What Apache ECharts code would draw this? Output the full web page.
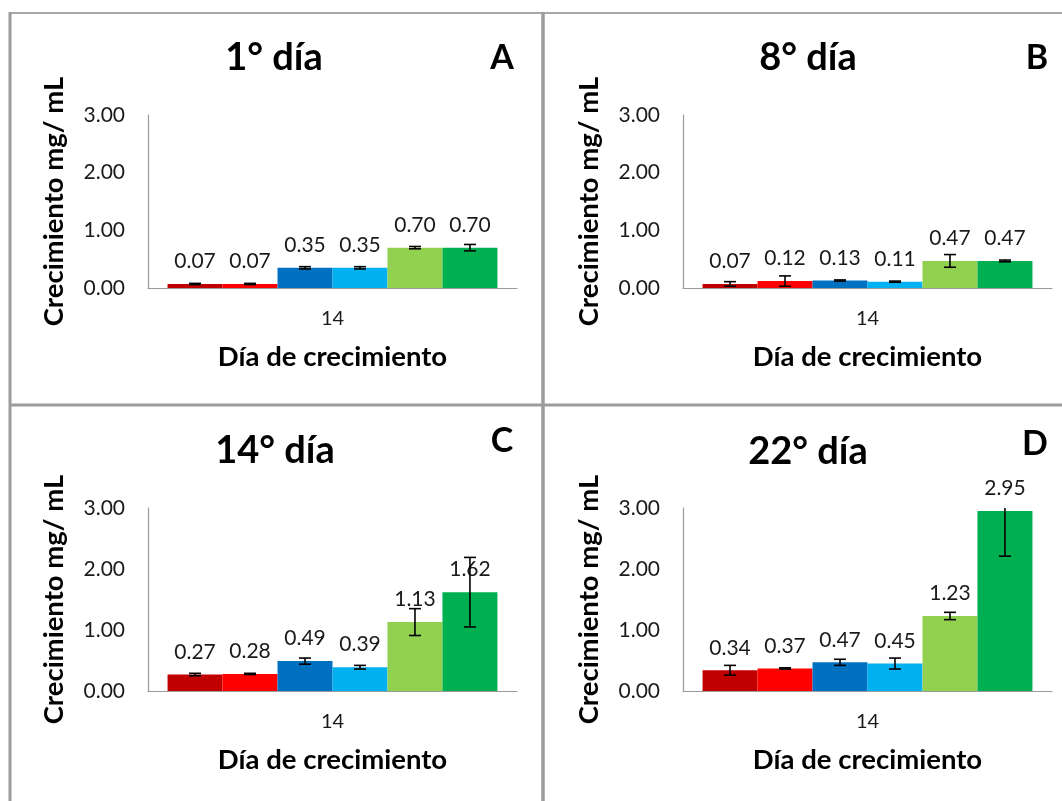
<!DOCTYPE html>
<html>
<head>
<meta charset="utf-8">
<script src="https://cdn.jsdelivr.net/npm/echarts@6/dist/echarts.min.js"></script>
<style>
html,body{margin:0;padding:0;background:#fff;}
#chart{width:1062px;height:801px;}
</style>
</head>
<body>
<div id="chart"></div>
<script>
// ---------- data ----------
const categories = ['14'];
const panelTitles = ['1° día', '8° día', '14° día', '22° día'];
const panelLetters = ['A', 'B', 'C', 'D'];
const seriesNames = ['Serie 1', 'Serie 2', 'Serie 3', 'Serie 4', 'Serie 5', 'Serie 6'];
const seriesColors = ['#C00000', '#FF0000', '#0070C0', '#00B0F0', '#92D050', '#00B050'];
const yTickLabels = ['0.00', '1.00', '2.00', '3.00'];
const yAxisTitle = 'Crecimiento mg/ mL';
const xAxisTitle = 'Día de crecimiento';

const valuesA = [0.07, 0.07, 0.35, 0.35, 0.70, 0.70];
const errorsA = [0.01, 0.01, 0.02, 0.02, 0.02, 0.055];
const valuesB = [0.07, 0.12, 0.13, 0.11, 0.47, 0.47];
const errorsB = [0.04, 0.09, 0.01, 0.01, 0.11, 0.015];
const valuesC = [0.27, 0.28, 0.49, 0.39, 1.13, 1.62];
const errorsC = [0.02, 0.01, 0.05, 0.03, 0.22, 0.57];
const valuesD = [0.34, 0.37, 0.47, 0.45, 1.23, 2.95];
const errorsD = [0.08, 0.01, 0.05, 0.09, 0.06, 0.74];

const panelValues = [valuesA, valuesB, valuesC, valuesD];
const panelErrors = [errorsA, errorsB, errorsC, errorsD];

// ---------- layout / style ----------
const grids = [
  {left: 148, top: 115, width: 369, height: 173},
  {left: 683, top: 115, width: 369, height: 173},
  {left: 148, top: 508, width: 369, height: 183},
  {left: 683, top: 508, width: 369, height: 183}
];
const titlePos = [[274, 58], [808, 58], [275, 451], [808, 452]];
const letterPos = [[502, 58], [1037, 58], [502, 441], [1035, 444]];
const GAP = 0.106;
const YMAX = 3;
const FONT = 'Lato, "Open Sans", sans-serif';
const AXIS_COLOR = '#9a9a9a';
const TEXT_COLOR = '#1a1a1a';

const chart = echarts.init(document.getElementById('chart'));

const xAxes = [], yAxes = [], series = [], graphics = [];

function errorRender(nBars) {
  return function (params, api) {
    const cat = api.value(0), v = api.value(1), e = api.value(2), idx = api.value(3);
    const c = api.coord([cat, v]);
    const band = api.size([1, 0])[0];
    const bw = band * (1 - GAP) / nBars;
    const x = c[0] + (idx - (nBars - 1) / 2) * bw;
    const hiVal = v + e;
    const hi = Math.min(hiVal, YMAX), lo = Math.max(v - e, 0);
    const yHi = api.coord([cat, hi])[1];
    const yLo = api.coord([cat, lo])[1];
    const cap = 6;
    const st = {stroke: '#000', lineWidth: 1.6};
    const children = [
      {type: 'line', shape: {x1: x, y1: yHi, x2: x, y2: yLo}, style: st}
    ];
    if (hiVal <= YMAX) children.push({type: 'line', shape: {x1: x - cap, y1: yHi, x2: x + cap, y2: yHi}, style: st});
    children.push({type: 'line', shape: {x1: x - cap, y1: yLo, x2: x + cap, y2: yLo}, style: st});
    return {type: 'group', children: children};
  };
}

for (let p = 0; p < 4; p++) {
  xAxes.push({
    type: 'category', gridIndex: p, data: categories,
    axisLine: {show: true, lineStyle: {color: AXIS_COLOR, width: 1.2}},
    axisTick: {show: false},
    axisLabel: {margin: 21, fontFamily: FONT, fontSize: 20, color: TEXT_COLOR},
    name: xAxisTitle, nameLocation: 'middle', nameGap: 55,
    nameTextStyle: {fontFamily: FONT, fontSize: 27.5, fontWeight: 'bold', color: '#000'}
  });
  yAxes.push({
    type: 'value', gridIndex: p, min: 0, max: YMAX, interval: 1,
    axisLine: {show: true, lineStyle: {color: AXIS_COLOR, width: 1.2}},
    axisTick: {show: false},
    splitLine: {show: false},
    axisLabel: {margin: 23, fontFamily: FONT, fontSize: 21, color: TEXT_COLOR,
      formatter: function (val) { return yTickLabels[Math.round(val)]; }},
    name: yAxisTitle, nameLocation: 'middle', nameRotate: 90, nameGap: 80,
    nameTextStyle: {fontFamily: FONT, fontSize: 27.5, fontWeight: 'bold', color: '#000'}
  });
  const vals = panelValues[p], errs = panelErrors[p];
  for (let s = 0; s < vals.length; s++) {
    series.push({
      type: 'bar', name: seriesNames[s], xAxisIndex: p, yAxisIndex: p,
      data: [vals[s]],
      barGap: '0%', barCategoryGap: (GAP * 100) + '%',
      itemStyle: {color: seriesColors[s]},
      label: {show: true, position: 'top', distance: 12, fontFamily: FONT, fontSize: 21,
        color: TEXT_COLOR, formatter: function (pp) { return pp.value.toFixed(2); }},
      emphasis: {disabled: true},
      silent: true
    });
  }
  series.push({
    type: 'custom', xAxisIndex: p, yAxisIndex: p, z: 5,
    renderItem: errorRender(vals.length),
    encode: {x: 0, y: 1},
    data: vals.map(function (v, i) { return [0, v, errs[i], i]; }),
    silent: true
  });
  graphics.push({
    type: 'text', x: titlePos[p][0], y: titlePos[p][1], silent: true,
    style: {text: panelTitles[p], font: 'bold 38px ' + FONT, fill: '#000', align: 'center', verticalAlign: 'middle'}
  });
  graphics.push({
    type: 'text', x: letterPos[p][0], y: letterPos[p][1], silent: true,
    style: {text: panelLetters[p], font: 'bold 34px ' + FONT, fill: '#000', align: 'center', verticalAlign: 'middle'}
  });
}

// panel borders
const B = '#9c9c9c';
graphics.push({type: 'line', silent: true, shape: {x1: 10, y1: 13, x2: 1062, y2: 13}, style: {stroke: '#a8a8a8', lineWidth: 2}});
graphics.push({type: 'line', silent: true, shape: {x1: 10, y1: 12, x2: 10, y2: 801}, style: {stroke: B, lineWidth: 3}});
graphics.push({type: 'line', silent: true, shape: {x1: 10, y1: 405, x2: 1062, y2: 405}, style: {stroke: B, lineWidth: 3}});
graphics.push({type: 'line', silent: true, shape: {x1: 543, y1: 12, x2: 543, y2: 801}, style: {stroke: B, lineWidth: 3.5}});

chart.setOption({
  animation: false,
  backgroundColor: '#ffffff',
  grid: grids,
  xAxis: xAxes,
  yAxis: yAxes,
  series: series,
  graphic: graphics
});
</script>
</body>
</html>
